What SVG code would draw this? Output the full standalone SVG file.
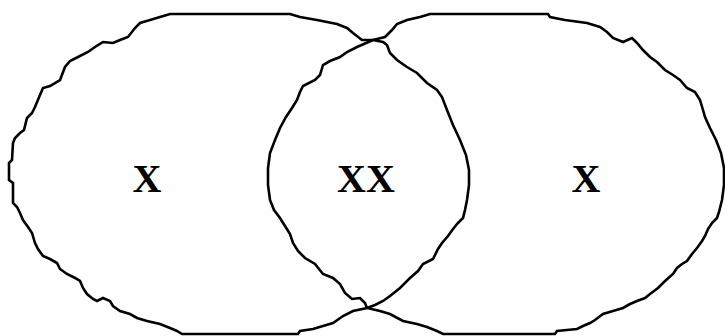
<svg xmlns="http://www.w3.org/2000/svg" width="725" height="336" viewBox="0 0 725 336">
<style>
.set{fill:none;stroke:#000;stroke-width:2.6;stroke-linejoin:miter;stroke-linecap:square}
.lbl{font-family:"Liberation Serif","Times New Roman",serif;font-weight:bold;font-size:40px;fill:#000;text-anchor:middle}
</style>
<rect width="725" height="336" fill="#fff"/>
<g id="set-left">
<path class="set" d="M170,14 L290,14 300,17 317,20 337,24 347,28 353,33 362,40 373,40 383,42 387,45 390,53 397,60 407,67 417,73 427,83 437,90 442,97 447,110 453,125 460,140 466,155 469,170 469,185 467,200 465,210 463,218 458,223 453,229 448,236 442,243 438,249 433,259 423,264 418,271 410,278 400,288 390,296 383,301 375,305 367,308 353,311 343,316 333,323 323,326 313,329 300,331 298,334 182,334 177,331 170,328 160,324 147,321 137,318 130,314 120,311 113,306 110,301 103,298 97,301 93,299 87,294 83,288 80,281 75,278 67,274 60,269 57,263 50,259 43,256 38,249 35,243 32,233 28,227 23,220 20,213 17,207 13,203 13,183 9,180 9,163 12,160 13,143 15,138 20,133 24,130 27,118 32,113 35,107 40,95 43,88 50,86 60,80 65,67 70,61 78,57 88,52 95,47 103,42 113,43 120,40 128,37 135,28 140,23 150,20 160,17 Z"/>
<text class="lbl" x="147" y="192">X</text>
</g>
<g id="set-right">
<path class="set" d="M430,14 L548,14 550,17 565,20 587,23 600,27 607,32 613,38 623,42 632,38 637,43 643,50 650,57 657,62 665,70 673,75 680,80 687,88 695,92 700,100 703,110 705,117 710,128 716,140 721,153 724,168 724,185 722,200 719,212 717,218 712,223 708,229 705,236 702,241 697,248 692,254 687,261 682,264 677,268 673,274 665,281 658,288 650,294 645,298 637,301 630,304 623,308 613,311 603,314 595,320 590,323 583,326 577,329 557,331 555,334 443,334 437,331 427,327 417,324 403,321 390,314 380,311 367,308 365,303 360,298 352,299 345,293 340,284 333,278 323,274 315,264 305,258 298,251 293,243 290,234 285,226 280,218 274,210 270,200 268,185 268,168 270,153 275,140 280,128 286,117 292,108 297,100 300,92 303,86 315,80 320,75 323,65 330,61 340,57 347,52 357,47 373,40 385,37 392,30 397,24 407,20 420,17 Z"/>
<text class="lbl" x="586" y="192">X</text>
</g>
<g id="overlap">
<text class="lbl" x="366" y="192">XX</text>
</g>
</svg>
